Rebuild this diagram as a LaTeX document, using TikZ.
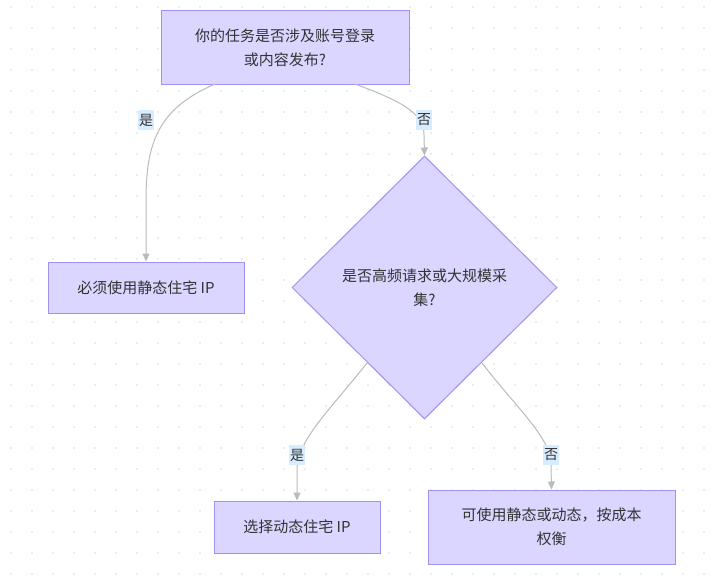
\documentclass[tikz,border=0pt]{standalone}
\usepackage{fontspec}
\setmainfont{Noto Sans CJK SC}
\usetikzlibrary{arrows.meta,shapes.geometric}

\definecolor{boxFill}{RGB}{218,214,255}
\definecolor{boxLine}{RGB}{158,146,245}
\definecolor{edgeGray}{RGB}{187,187,187}
\definecolor{tagFill}{RGB}{216,236,255}
\definecolor{textDark}{RGB}{51,51,51}
\definecolor{dotGray}{RGB}{236,236,236}

\tikzset{
    stepbox/.style={draw=boxLine, fill=boxFill, line width=1pt, text=textDark,
        align=center, font=\fontsize{15}{24}\selectfont, inner sep=0pt},
    choice/.style={diamond, draw=boxLine, fill=boxFill, line width=1pt, text=textDark,
        align=center, font=\fontsize{15}{24}\selectfont, inner sep=0pt, aspect=1.0},
    tag/.style={fill=tagFill, text=textDark, font=\fontsize{14}{16}\selectfont,
        inner xsep=1pt, inner ysep=4pt},
    link/.style={draw=edgeGray, line width=1pt, -{Triangle[length=8pt,width=7pt]}}
}

\begin{document}
\begin{tikzpicture}[x=1pt, y=-1pt]

    \useasboundingbox[fill=white] (0,0) rectangle (711,578);

    % dotted background
    \foreach \i in {0,...,33}
        \foreach \j in {0,...,27}
            \fill[dotGray] (11+21*\i-1, 7+21*\j-1) rectangle ++(2,2);

    % nodes
    \node[stepbox, minimum width=248pt, minimum height=73pt] (q1) at (285,47.5)
        {你的任务是否涉及账号登录\\或内容发布?};
    \node[stepbox, minimum width=196pt, minimum height=51pt] (static) at (146,287.5)
        {必须使用静态住宅 IP};
    \node[choice, minimum width=265pt, minimum height=263pt] (q2) at (424.5,287.5) {};
    \node[text=textDark, align=center, font=\fontsize{15}{24}\selectfont] (q2text) at (424.5,288)
        {是否高频请求或大规模采\\集?};
    \node[stepbox, minimum width=166pt, minimum height=52pt] (dynamic) at (297,527)
        {选择动态住宅 IP};
    \node[stepbox, minimum width=247pt, minimum height=74pt] (either) at (551.5,527)
        {可使用静态或动态，按成本\\权衡};

    % edges
    \coordinate (a1) at (215,84);
    \coordinate (a2) at (355,84);
    \coordinate (b1) at (367,363);
    \coordinate (b2) at (482,363);

    \draw[link] (a1) .. controls (160,108) and (146,140) .. (146,200) -- (static.north);
    \draw[link] (a2) .. controls (398,100) and (424,112) .. (424,135) -- (q2.north);
    \draw[link] (b1) .. controls (330,410) and (297,440) .. (297,470) -- (dynamic.north);
    \draw[link] (b2) .. controls (520,412) and (551,438) .. (551,465) -- (either.north);

    % labels
    \node[tag] (yes1) at (146,120) {是};
    \node[tag] (no1) at (424,120) {否};
    \node[tag] (yes2) at (297,455) {是};
    \node[tag] (no2) at (551,455) {否};

\end{tikzpicture}
\end{document}
